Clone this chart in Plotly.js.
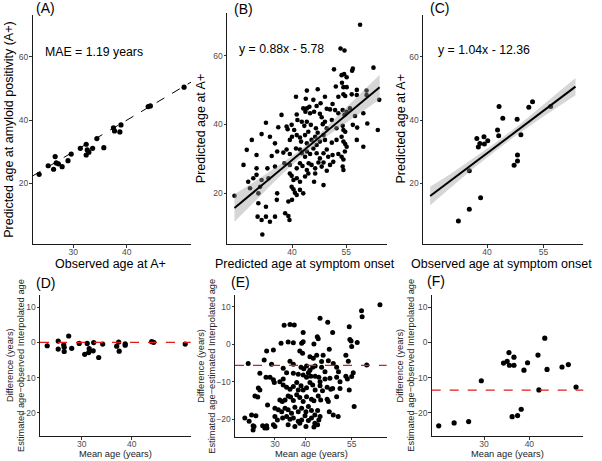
<!DOCTYPE html>
<html><head><meta charset="utf-8">
<script src="https://cdn.plot.ly/plotly-3.0.1.min.js"></script>
<style>html,body{margin:0;padding:0;background:#fff}#chart{width:602px;height:461px}</style>
</head><body><div id="chart"></div>
<script>
// ---------- DATA ----------
// (A) observed vs predicted age at A+
const A_obs  = [23.6,25.3,26.3,26.6,26.8,27.2,27.9,29.0,29.6,31.3,32.4,32.4,32.6,32.9,33.6,34.4,35.7,37.5,37.7,38.7,38.9,44.0,44.4,50.7];
const A_pred = [22.9,25.6,24.5,28.5,26.5,26.2,25.3,27.2,29.3,31.1,32.4,29.0,30.6,29.9,31.1,34.2,31.3,37.6,36.6,36.3,38.5,44.3,44.5,50.4];
const A_refX = [22.4,52.0], A_refY = [22.4,52.0];
const A_text = "MAE = 1.19 years";

// (B) predicted onset vs predicted A+
const B_onset = [58.8,53.4,54.5,51.6,56.8,56.6,62.5,53.7,54.4,55.1,44.1,47.1,53.8,54.2,55.1,57.9,60.6,52.1,41.1,43.8,45.9,49.1,52.8,54.2,54.7,56.5,57.9,60.6,64.1,44.1,44.8,46.8,47.9,49.6,51.2,37.1,43.1,43.7,45.0,46.1,47.7,48.2,50.5,51.9,52.8,54.0,54.5,55.1,56.0,57.4,59.7,41.3,32.8,36.2,38.5,38.8,39.9,40.6,41.5,42.7,43.4,44.1,44.5,45.2,46.6,47.1,48.5,49.1,49.6,51.0,52.3,54.0,54.2,54.7,56.8,58.0,60.8,63.7,28.9,31.6,33.9,35.3,39.4,40.0,41.3,42.2,42.5,43.6,44.1,45.4,46.4,46.8,47.7,48.7,49.1,51.0,52.3,53.7,54.2,54.7,55.1,57.9,59.7,27.5,30.2,34.4,35.9,37.6,38.5,39.4,41.1,42.2,42.7,43.6,44.1,45.0,45.9,46.8,47.7,48.7,49.6,50.0,51.2,52.8,53.7,54.2,54.6,26.6,30.2,33.2,35.3,37.9,39.4,41.3,42.2,42.9,44.1,44.6,45.4,46.4,47.3,48.2,48.7,49.6,50.5,51.4,54.0,54.2,27.9,29.3,30.2,31.6,33.5,39.4,39.9,40.4,41.3,42.2,43.6,44.5,46.4,46.1,48.7,24.1,28.4,30.7,31.2,35.9,39.9,40.4,40.8,41.3,42.2,43.1,30.7,32.8,35.8,39.0,40.0,30.5,31.6,32.8,33.9,35.3,38.1,39.0,39.3,31.8];
const B_pred  = [69.1,62.2,61.6,56.1,56.3,55.7,56.6,54.4,54.7,53.8,49.9,50.3,52.2,50.9,50.9,50.1,49.9,51.1,48.1,47.5,47.2,48.1,48.1,48.8,48.3,48.8,48.6,48.6,47.2,44.7,45.2,45.4,46.2,44.6,46.0,42.8,44.7,43.7,43.3,43.7,43.1,42.1,44.4,44.2,43.3,44.2,42.8,43.7,44.7,42.5,43.3,42.9,40.5,39.2,39.4,38.6,39.9,38.4,41.3,40.8,39.6,40.8,37.9,39.9,38.9,37.6,40.1,40.8,38.9,41.3,38.9,39.6,38.4,37.9,39.9,39.1,40.3,38.4,35.5,37.2,36.4,34.5,35.5,36.4,36.9,36.2,35.0,36.9,34.5,35.5,36.4,34.0,35.0,36.9,35.5,34.7,35.5,36.4,35.0,34.3,33.5,35.5,33.5,32.6,31.1,30.8,32.1,31.8,32.7,31.4,33.0,32.7,31.6,30.6,32.1,31.4,33.0,31.6,30.1,31.6,32.7,30.6,31.1,31.4,30.6,29.8,32.1,28.2,27.2,27.2,27.7,28.7,28.2,27.2,28.7,27.9,26.7,28.7,28.2,27.2,28.9,27.7,28.9,26.5,28.2,29.1,27.7,26.7,23.3,24.3,25.3,23.8,24.3,25.7,25.0,23.8,24.3,23.3,24.8,25.7,25.7,23.3,22.3,19.2,21.4,19.9,21.8,19.9,21.8,21.1,20.1,19.4,20.9,19.9,17.0,16.0,18.0,17.5,18.0,13.1,12.1,13.1,11.6,13.1,14.1,13.3,12.1,7.9];
const B_fitX = [24.1,64.2], B_fitY = [15.6,50.9];
const B_bandX  = [24.1,30,36,42,48,54,60,64.2];
const B_bandLo = [11.6,17.8,24.2,30.1,35.3,39.8,44.2,47.3];
const B_bandHi = [19.6,23.6,27.8,32.3,37.7,43.8,50.2,54.5];
const B_text = "y = 0.88x - 5.78";

// (C) observed onset vs predicted A+
const C_onset = [32.4,35.3,35.3,37.3,37.7,38.1,38.3,39.2,39.3,40.2,42.8,43.1,43.2,44.2,47.2,48.0,48.1,48.1,49.0,51.1,52.1,56.9];
const C_pred  = [8.2,11.9,24.0,34.2,31.5,32.6,15.5,34.8,32.5,33.5,36.9,35.1,44.3,40.6,25.8,40.3,29.0,27.1,35.4,44.1,45.8,44.3];
const C_fitX = [24.9,63.5], C_fitY = [16.05,50.6];
const C_bandX  = [24.9,30,36,42,48,54,60,63.5];
const C_bandLo = [13.15,18.4,24.4,30.05,35.4,40.4,45.2,47.9];
const C_bandHi = [18.95,22.8,27.6,32.65,38.0,43.8,49.8,53.3];
const C_text = "y = 1.04x - 12.36";

// (D) Bland-Altman for A
const D_mean = [23.1,25.3,25.3,26.4,26.5,26.5,27.4,28.0,29.5,30.6,31.1,31.4,31.5,32.3,32.4,33.4,34.2,37.0,37.4,37.5,38.7,38.7,44.0,44.4,50.7];
const D_diff = [-0.96,0.37,-1.9,-0.7,-1.4,-2.6,1.8,-1.7,-0.3,-3.4,-0.3,-2.9,-1.8,-2.4,-0.05,-4.3,-0.5,-1.1,0.1,-2.5,-0.4,-0.8,0.2,0.0,-0.5];
const D_bias = 0;

// (E) Bland-Altman for B
const E_mean = [64.2,58.2,58.4,44.7,47.2,33.0,34.9,36.3,48.8,39.2,43.8,44.1,54.2,32.0,34.3,36.0,38.7,39.2,42.7,47.7,54.4,54.8,56.8,55.0,27.3,29.5,38.1,39.0,41.4,42.5,43.6,45.7,45.2,47.4,49.0,53.1,53.9,26.5,28.9,34.9,36.0,21.3,59.9,38.5,39.4,40.3,41.4,42.3,43.1,45.2,46.3,50.1,50.7,32.7,33.8,36.0,37.6,25.1,27.1,28.4,29.5,29.8,31.6,32.7,39.2,40.3,40.9,41.7,43.1,44.3,44.7,46.3,47.9,50.1,51.2,53.1,53.6,55.0,55.5,24.6,25.1,23.5,24.4,32.7,33.8,34.9,36.0,37.1,37.6,38.5,39.2,40.3,41.4,42.3,43.1,44.7,45.5,47.0,48.2,48.8,51.2,54.2,27.6,31.6,32.4,33.3,34.3,35.1,36.0,37.1,38.1,39.2,40.3,41.9,42.7,44.1,44.9,47.0,47.4,50.1,55.8,30.0,31.1,32.2,33.3,34.3,35.4,36.5,37.6,38.7,40.1,40.9,41.9,43.0,43.9,44.7,47.7,49.0,50.6,20.2,22.4,23.8,21.6,22.9,30.0,30.8,32.5,33.8,34.9,36.0,37.6,38.7,39.8,40.9,41.9,43.0,43.9,44.3,23.2,26.0,27.3,29.5,34.3,36.5,38.1,40.1,42.7,22.9,26.7,27.4,30.0];
const E_diff = [10.6,9.0,7.4,7.0,5.9,5.1,5.3,5.2,3.2,3.2,2.0,1.5,4.7,0.3,0.6,0.4,0.3,0.7,0.1,-1.3,1.3,0.9,0.5,-0.6,-1.8,-1.5,-1.8,-2.4,-3.3,-3.7,-2.9,-2.9,-4.6,-4.4,-5.1,-2.9,-4.5,-4.2,-5.3,-4.5,-5.3,-5.1,-5.5,-6.1,-6.5,-5.8,-6.9,-6.1,-5.8,-6.1,-7.3,-6.1,-7.3,-6.4,-7.6,-7.7,-8.0,-7.7,-8.8,-8.8,-9.5,-10.2,-10.0,-9.3,-8.2,-8.8,-7.6,-8.5,-8.5,-8.8,-10.0,-9.3,-9.1,-8.8,-10.0,-8.5,-9.3,-8.6,-7.6,-11.7,-12.2,-13.8,-14.1,-10.9,-11.5,-12.0,-11.3,-10.2,-12.2,-11.1,-12.2,-11.6,-10.2,-10.9,-12.2,-11.1,-12.4,-11.5,-12.0,-11.8,-11.8,-12.2,-16.2,-14.9,-15.3,-14.9,-13.8,-14.1,-15.0,-13.5,-14.2,-15.3,-14.0,-14.7,-15.1,-13.8,-14.9,-14.7,-15.3,-14.0,-16.6,-17.1,-17.5,-18.0,-17.1,-17.5,-18.4,-16.8,-18.0,-17.1,-18.0,-16.6,-17.7,-18.9,-17.7,-19.3,-18.0,-18.9,-19.3,-19.7,-18.9,-19.1,-20.6,-21.8,-19.3,-20.2,-19.7,-19.3,-20.0,-19.7,-20.6,-20.2,-19.1,-20.4,-19.7,-21.1,-21.5,-20.2,-22.0,-21.8,-21.8,-21.5,-21.5,-22.0,-21.1,-22.0,-22.1,-22.9,-22.4,-22.4,-22.0];
const E_bias = -5.6;

// (F) Bland-Altman for C
const F_mean = [20.0,23.4,26.6,29.4,34.3,35.1,35.5,35.6,36.6,36.6,36.2,37.4,38.2,38.8,39.6,41.9,42.1,43.4,43.9,47.2,48.6,50.3];
const F_diff = [-23.7,-22.9,-22.5,-10.9,-5.9,-5.4,-2.9,-6.5,-4.2,-6.5,-21.1,-20.8,-19.0,-7.9,-5.8,-3.6,-13.5,1.2,-7.7,-7.0,-6.3,-12.7];
const F_bias = -13.55;

// ---------- LAYOUT HELPERS (pixel -> paper) ----------
const W = 602, H = 461;
const px = v => v / W, py = v => 1 - v / H;
const FONT = "Liberation Sans, Arial, Helvetica, sans-serif";

function baseAxis(range, tickvals, anchor) {
  return {range: range, tickvals: tickvals, anchor: anchor,
    showline: true, linecolor: '#1a1a1a', linewidth: 1, showgrid: false, zeroline: false,
    ticks: 'outside', ticklen: 2.5, tickwidth: 1, tickcolor: '#333', ticklabelstandoff: -3,
    tickfont: {family: FONT, size: 8.5, color: '#4d4d4d'}, fixedrange: true};
}
function ax(dom, range, tickvals, anchor) {
  return Object.assign(baseAxis(range, tickvals, anchor), {domain: [px(dom[0]), px(dom[1])]});
}
function ay(dom, range, tickvals, anchor) {
  return Object.assign(baseAxis(range, tickvals, anchor), {domain: [py(dom[1]), py(dom[0])], ticklabelstandoff: -1});
}

const pts = (x, y, xa, ya, s) => ({x: x, y: y, xaxis: xa, yaxis: ya, type: 'scatter', mode: 'markers',
  marker: {color: '#000', size: s, line: {width: 0}}, hoverinfo: 'skip'});
const band = (bx, lo, hi, xa, ya) => ({x: bx.concat(bx.slice().reverse()), y: lo.concat(hi.slice().reverse()),
  xaxis: xa, yaxis: ya, type: 'scatter', mode: 'lines', fill: 'toself', fillcolor: 'rgba(153,153,153,0.4)',
  line: {width: 0}, hoverinfo: 'skip'});
const fit = (x, y, xa, ya) => ({x: x, y: y, xaxis: xa, yaxis: ya, type: 'scatter', mode: 'lines',
  line: {color: '#000', width: 2}, hoverinfo: 'skip'});

const data = [
  pts(A_obs, A_pred, 'x', 'y', 5.2),
  {x: A_refX, y: A_refY, xaxis: 'x', yaxis: 'y', type: 'scatter', mode: 'lines', line: {color: '#000', width: 1, dash: 'dash'}, hoverinfo: 'skip'},
  pts(B_onset, B_pred, 'x2', 'y2', 4.6),
  band(B_bandX, B_bandLo, B_bandHi, 'x2', 'y2'),
  fit(B_fitX, B_fitY, 'x2', 'y2'),
  pts(C_onset, C_pred, 'x3', 'y3', 5),
  band(C_bandX, C_bandLo, C_bandHi, 'x3', 'y3'),
  fit(C_fitX, C_fitY, 'x3', 'y3'),
  pts(D_mean, D_diff, 'x4', 'y4', 5.2),
  pts(E_mean, E_diff, 'x5', 'y5', 5),
  pts(F_mean, F_diff, 'x6', 'y6', 5.2)
];

const redLine = (xr, yr, v) => ({type: 'line', xref: xr + ' domain', yref: yr, x0: 0, x1: 1, y0: v, y1: v,
  line: {color: '#e41a1c', width: 1.2, dash: 'dash'}, layer: 'above'});

const ann = (t, x, y, size, opts) => Object.assign({text: t, x: px(x), y: py(y), xref: 'paper', yref: 'paper',
  showarrow: false, xanchor: 'center', yanchor: 'middle', font: {family: FONT, size: size, color: '#000'}}, opts || {});
const bt = (t, x, y, rot) => ann(t, x, y, 9.3, Object.assign({font: {family: FONT, size: 9.3, color: '#222'}}, rot ? {textangle: -90} : {}));

const TT = 12.5;
const layout = {
  width: W, height: H, margin: {l: 0, r: 0, t: 0, b: 0}, showlegend: false,
  paper_bgcolor: '#fff', plot_bgcolor: '#fff',
  xaxis:  ax([32.5, 191], [22.36, 52.0], [30, 40], 'y'),
  yaxis:  ay([15, 244], [0.9, 73.2], [20, 40, 60], 'x'),
  xaxis2: ax([227, 387], [22.04, 66.24], [40, 55], 'y2'),
  yaxis2: ay([13, 244], [5.11, 72.55], [20, 40, 60], 'x2'),
  xaxis3: ax([423, 583], [23.0, 65.5], [40, 55], 'y3'),
  yaxis3: ay([15, 244], [0.9, 73.2], [20, 40, 60], 'x3'),
  xaxis4: ax([40, 190.7], [21.66, 51.8], [30, 40], 'y4'),
  yaxis4: ay([295, 436], [-26.6, 13.45], [-20, -10, 0, 10], 'x4'),
  xaxis5: ax([235, 386.7], [17.0, 66.4], [30, 40, 55], 'y5'),
  yaxis5: ay([295, 436.7], [-24.7, 13.2], [-20, -10, 0, 10], 'x5'),
  xaxis6: ax([431.7, 583.3], [18.45, 51.9], [30, 40], 'y6'),
  yaxis6: ay([295, 436], [-26.6, 13.45], [-20, -10, 0, 10], 'x6'),
  shapes: [redLine('x4', 'y4', D_bias), redLine('x5', 'y5', E_bias), redLine('x6', 'y6', F_bias)],
  annotations: [
    ann('(A)', 45.5, 7.5, 14), ann('(B)', 243.3, 8.8, 14), ann('(C)', 439.3, 7.5, 14),
    ann('(D)', 45, 283, 14), ann('(E)', 240.3, 281.7, 14), ann('(F)', 435.8, 281.2, 14),
    ann(A_text, 42.7, 51.7, 12.3, {xanchor: 'left'}),
    ann(B_text, 236.7, 49.3, 12.3, {xanchor: 'left'}),
    ann(C_text, 435.7, 50, 12.3, {xanchor: 'left'}),
    ann('Predicted age at amyloid positivity (A+)', 8.3, 129.5, TT, {textangle: -90}),
    ann('Observed age at A+', 111, 264, TT),
    ann('Predicted age at A+', 201.7, 128.5, TT, {textangle: -90}),
    ann('Predicted age at symptom onset', 305, 264, TT),
    ann('Predicted age at A+', 400, 129.5, TT, {textangle: -90}),
    ann('Observed age at symptom onset', 501, 264, TT),
    bt('Difference (years)', 9.5, 365.5, true),
    bt('Estimated age\u2212observed Interpolated age', 20.5, 365.5, true),
    bt('Mean age (years)', 115.5, 453.5),
    bt('Difference (years)', 201, 365.8, true),
    bt('Estimated age\u2212estimated Interpolated age', 212, 365.8, true),
    bt('Mean age (years)', 311, 453.5),
    bt('Difference (years)', 399, 365.5, true),
    bt('Estimated age\u2212observed Interpolated age', 410.2, 365.5, true),
    bt('Mean age (years)', 507, 453.5)
  ]
};

Plotly.newPlot('chart', data, layout, {staticPlot: true, displayModeBar: false});
</script></body></html>
